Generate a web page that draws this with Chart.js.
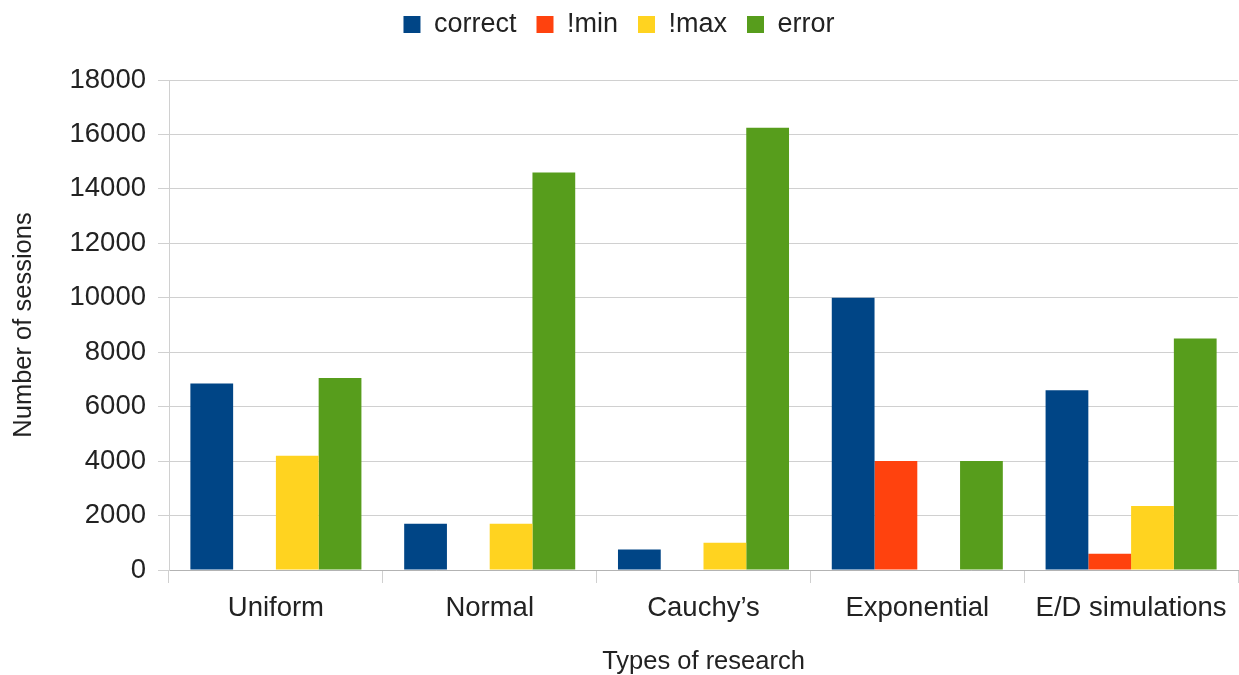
<!DOCTYPE html>
<html>
<head>
<meta charset="utf-8">
<script src="https://cdn.jsdelivr.net/npm/chart.js@4"></script>
<style>
  html, body { margin: 0; padding: 0; background: #fff; }
  #wrap { width: 1239px; height: 675px; }
</style>
</head>
<body>
<div id="wrap"><canvas id="sessions-chart"></canvas></div>
<script>
// Research types and session counts
const categories = ["Uniform", "Normal", "Cauchy’s", "Exponential", "E/D simulations"];
const correctValues = [6850, 1700, 750, 10000, 6600];
const minValues = [0, 0, 0, 4000, 600];
const maxValues = [4200, 1700, 1000, 0, 2350];
const errorValues = [7050, 14600, 16250, 4000, 8500];
const yTicks = [0, 2000, 4000, 6000, 8000, 10000, 12000, 14000, 16000, 18000];

const fontFamily = "'Liberation Sans', Arial, sans-serif";
const textColor = "#222";

const ctx = document.getElementById("sessions-chart");

new Chart(ctx, {
  type: "bar",
  data: {
    labels: categories,
    datasets: [
      { label: "correct", data: correctValues, backgroundColor: "#004586" },
      { label: "!min", data: minValues, backgroundColor: "#ff420e" },
      { label: "!max", data: maxValues, backgroundColor: "#ffd320" },
      { label: "error", data: errorValues, backgroundColor: "#579d1c" },
    ],
  },
  options: {
    responsive: true,
    maintainAspectRatio: false,
    animation: false,
    categoryPercentage: 0.8,
    barPercentage: 1.0,
    layout: {
      padding: { top: -9, right: 1, bottom: -2, left: 0 },
    },
    plugins: {
      legend: {
        position: "top",
        labels: {
          boxWidth: 17,
          boxHeight: 17,
          padding: 20,
          color: textColor,
          font: { family: fontFamily, size: 27 },
        },
      },
      // empty subtitle used as a spacer between legend and plot
      subtitle: {
        display: true,
        text: "",
        weight: 500,
        padding: { top: 0, bottom: 20 },
        font: { size: 10 },
      },
      tooltip: { enabled: false },
    },
    scales: {
      x: {
        afterFit(scale) {
          scale.height = 107;
        },
        grid: {
          offset: true,
          drawOnChartArea: false,
          drawTicks: true,
          tickLength: 13,
          color: "#d0d0d0",
        },
        border: { color: "#b3b3b3" },
        ticks: {
          color: textColor,
          font: { family: fontFamily, size: 27.5 },
          maxRotation: 0,
          padding: 9,
        },
        title: {
          display: true,
          text: "Types of research",
          color: textColor,
          font: { family: fontFamily, size: 25.5 },
          padding: { top: 0, bottom: 0 },
        },
      },
      y: {
        min: 0,
        max: 18000,
        afterBuildTicks(scale) {
          scale.ticks = yTicks.map((v) => ({ value: v }));
        },
        afterFit(scale) {
          scale.width = 169;
        },
        grid: {
          color: "#d0d0d0",
          tickLength: 11,
        },
        border: { color: "#d0d0d0" },
        ticks: {
          color: textColor,
          font: { family: fontFamily, size: 27.5 },
          padding: 12,
          callback: (v) => String(v),
        },
        title: {
          display: true,
          text: "Number of sessions",
          color: textColor,
          font: { family: fontFamily, size: 25.5 },
          padding: { top: 9, bottom: 0 },
        },
      },
    },
  },
});
</script>
</body>
</html>
